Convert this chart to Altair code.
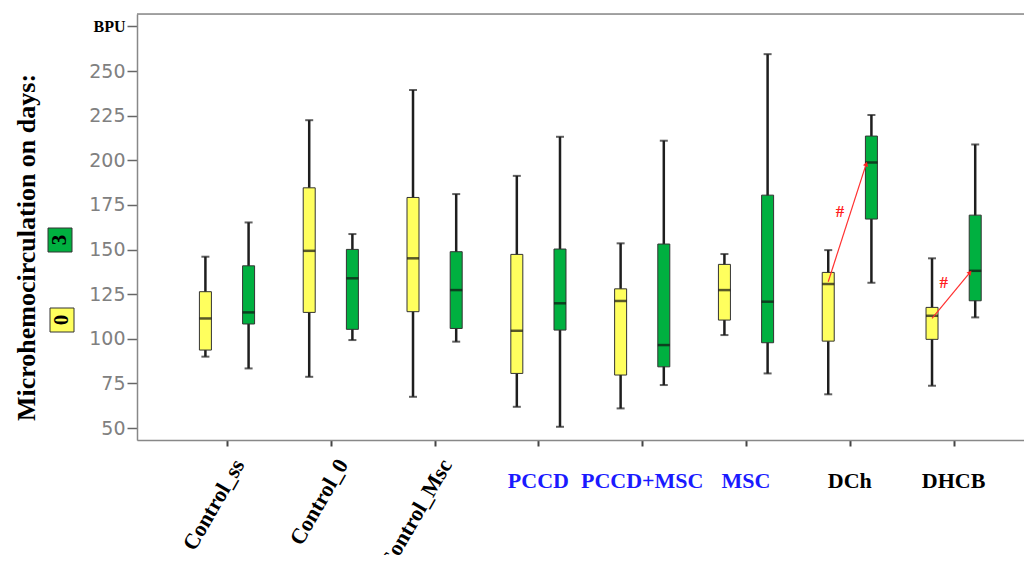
import math
import altair as alt
import pandas as pd

groups = ["Control_ss", "Control_0", "Control_Msc", "PCCD", "PCCD+MSC", "MSC", "DCh", "DHCB"]
label_colors = ["black", "black", "black", "#1a1aff", "#1a1aff", "#1a1aff", "black", "black"]
label_rotated = [True, True, True, False, False, False, False, False]

# day 0 (yellow)
d0_min = [90.0, 78.7, 67.5, 61.9, 61.0, 102.1, 68.9, 73.7]
d0_q1 = [93.7, 114.8, 115.2, 80.6, 79.7, 110.5, 98.7, 99.7]
d0_med = [111.4, 149.3, 145.1, 104.5, 121.2, 127.3, 130.7, 112.9]
d0_q3 = [126.4, 184.6, 179.2, 147.3, 128.0, 141.7, 137.2, 117.6]
d0_max = [146.0, 222.5, 239.4, 191.3, 153.5, 147.5, 149.7, 145.1]
# day 3 (green)
d3_min = [83.4, 99.3, 98.4, 50.7, 74.1, 80.6, 131.4, 112.0]
d3_q1 = [108.3, 105.3, 105.8, 104.9, 84.3, 97.8, 167.1, 121.3]
d3_med = [114.8, 133.9, 127.3, 119.9, 96.5, 120.8, 198.8, 138.1]
d3_q3 = [140.9, 150.1, 148.8, 150.3, 153.1, 180.5, 213.6, 169.3]
d3_max = [165.2, 158.7, 181.1, 213.2, 211.0, 259.5, 225.4, 208.9]

# significance arrows (#): group, value at start (day 0), value at end (day 3)
arrow_groups = ["DCh", "DHCB"]
arrow_from = [132.0, 111.5]
arrow_to = [198.0, 137.2]
hash_values = [171.0, 131.4]

y_ticks = [50, 75, 100, 125, 150, 175, 200, 225, 250, 275]

W, H = 887, 426
X_DOM = [-0.867, 7.678]
Y_DOM = [43.3, 282.0]
OFF = 0.208
px_x = W / (X_DOM[1] - X_DOM[0])
px_y = H / (Y_DOM[1] - Y_DOM[0])

YELLOW = "#ffff5e"
GREEN = "#00b040"

rows = []
for i, g in enumerate(groups):
    rows.append(dict(group=g, idx=i, day="0", mn=d0_min[i], q1=d0_q1[i], med=d0_med[i], q3=d0_q3[i], mx=d0_max[i]))
    rows.append(dict(group=g, idx=i, day="3", mn=d3_min[i], q1=d3_q1[i], med=d3_med[i], q3=d3_q3[i], mx=d3_max[i]))
box_df = pd.DataFrame(rows)
box_df["xpos"] = box_df["idx"] + box_df["day"].map({"0": -OFF, "3": OFF})

lab_df = pd.DataFrame({"group": groups, "xpos": list(range(len(groups))),
                       "color": label_colors, "rot": label_rotated})

arr_rows = []
for g, a, b, hv in zip(arrow_groups, arrow_from, arrow_to, hash_values):
    i = groups.index(g)
    xs = i - OFF
    xe = i + OFF - 0.05
    ang = math.degrees(math.atan2((xe - xs) * px_x, (b - a) * px_y))
    arr_rows.append(dict(xpos=xs, xend=xe, yfrom=a, yto=b, ang=ang,
                         hx=(xs + xe) / 2 - 0.07, hy=hv))
arr_df = pd.DataFrame(arr_rows)

xscale = alt.Scale(domain=X_DOM, nice=False, zero=False, padding=0)
yscale = alt.Scale(domain=Y_DOM, nice=False, zero=False, padding=0)

is_bpu = "datum.value == 275"
yaxis = alt.Axis(
    values=y_ticks,
    labelExpr="datum.value == 275 ? 'BPU' : datum.label",
    labelFont={"condition": {"test": is_bpu, "value": "Liberation Serif"}, "value": "DejaVu Sans"},
    labelFontSize={"condition": {"test": is_bpu, "value": 16}, "value": 19},
    labelFontWeight={"condition": {"test": is_bpu, "value": "bold"}, "value": "normal"},
    labelColor={"condition": {"test": is_bpu, "value": "black"}, "value": "#808080"},
    labelPadding=2,
    tickSize=10, tickColor="#666", tickWidth=1.5,
    domainColor="#888", domainWidth=1.5, grid=False,
    title="Microhemocirculation on days:",
    titleFont="Liberation Serif", titleFontSize=26, titleFontWeight="bold", titleColor="black",
    titleAngle=270, titleX=-111, titleY=233, titleAlign="center", titleBaseline="middle",
)
xaxis = alt.Axis(values=list(range(len(groups))), labels=False, title=None,
                 tickSize=6, tickWidth=2, tickColor="#444",
                 domainColor="#888", domainWidth=1.5, grid=False)


def X(field="xpos"):
    return alt.X(f"{field}:Q", scale=xscale, axis=xaxis)


def Y(field):
    return alt.Y(f"{field}:Q", scale=yscale, axis=yaxis)


color = alt.Color("day:N", scale=alt.Scale(domain=["0", "3"], range=[YELLOW, GREEN]), legend=None)

base = alt.Chart(box_df)
whisk = base.mark_rule(color="#1e1e1e", strokeWidth=2.5).encode(x=X(), y=Y("mn"), y2="mx")
cap_lo = base.mark_tick(orient="horizontal", size=8, thickness=2, color="#1e1e1e").encode(x=X(), y=Y("mn"))
cap_hi = base.mark_tick(orient="horizontal", size=8, thickness=2, color="#1e1e1e").encode(x=X(), y=Y("mx"))
box = base.mark_bar(width=12, orient="vertical", stroke="#333", strokeWidth=1).encode(
    x=X(), y=Y("q1"), y2="q3", color=color)
med = base.mark_tick(orient="horizontal", size=12, thickness=2.5, color="#111").encode(x=X(), y=Y("med"))

arrows = alt.Chart(arr_df).mark_rule(color="#ff3030", strokeWidth=1.2).encode(
    x=X(), x2="xend", y=Y("yfrom"), y2="yto")
heads = alt.Chart(arr_df).mark_point(shape="triangle-up", filled=True, size=28, color="#ff2020", opacity=1).encode(
    x=X("xend"), y=Y("yto"), angle=alt.Angle("ang:Q", scale=None))
hashes = alt.Chart(arr_df).mark_text(text="#", color="#ff2020", font="Liberation Serif",
                                     fontSize=17, fontWeight="bold").encode(x=X("hx"), y=Y("hy"))

rot_labels = alt.Chart(lab_df).transform_filter("datum.rot").mark_text(
    angle=300, align="right", baseline="middle", dx=6, dy=10.4,
    font="Liberation Serif", fontSize=22, fontWeight="bold").encode(
    x=X(), y=alt.value(447), text="group:N", color=alt.Color("color:N", scale=None))
flat_labels = alt.Chart(lab_df).transform_filter("!datum.rot").mark_text(
    align="center", baseline="middle",
    font="Liberation Serif", fontSize=22, fontWeight="bold").encode(
    x=X(), y=alt.value(467), text="group:N", color=alt.Color("color:N", scale=None))

one = pd.DataFrame({"a": [0]})
top_border = alt.Chart(one).mark_rule(color="#888", strokeWidth=1.5).encode(
    x=alt.value(0), x2=alt.value(W), y=alt.value(0))

leg3_box = alt.Chart(one).mark_square(size=576, color=GREEN, stroke="#333", strokeWidth=1, opacity=1).encode(
    x=alt.value(-77), y=alt.value(226))
leg3_txt = alt.Chart(one).mark_text(text="3", angle=270, font="Liberation Serif", fontSize=21,
                                    fontWeight="bold", color="black", baseline="middle", align="center").encode(
    x=alt.value(-77), y=alt.value(226))
leg0_box = alt.Chart(one).mark_square(size=576, color=YELLOW, stroke="#333", strokeWidth=1, opacity=1).encode(
    x=alt.value(-75), y=alt.value(306))
leg0_txt = alt.Chart(one).mark_text(text="0", angle=270, font="Liberation Serif", fontSize=21,
                                    fontWeight="bold", color="black", baseline="middle", align="center").encode(
    x=alt.value(-75), y=alt.value(306))

chart = alt.layer(
    whisk, cap_lo, cap_hi, box, med, arrows, heads, hashes,
    rot_labels, flat_labels, top_border, leg3_box, leg3_txt, leg0_box, leg0_txt
).properties(
    width=W, height=H,
    padding={"left": 129, "top": 6, "right": 0, "bottom": 115},
    autosize=alt.AutoSizeParams(type="none"),
).configure_view(stroke=None).configure(background="white")

chart.save("out.html", embed_options={"renderer": "svg", "actions": False})
